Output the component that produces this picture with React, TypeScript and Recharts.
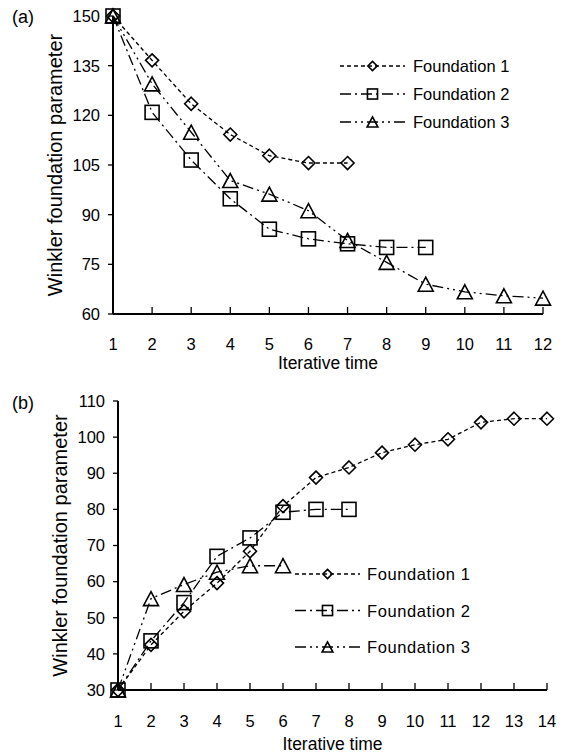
import { LineChart, Line, XAxis, YAxis } from 'recharts'

// panel (a)
const timesA = [1, 2, 3, 4, 5, 6, 7, 8, 9, 10, 11, 12]
const found1A = [150, 136.6, 123.5, 114.2, 107.8, 105.6, 105.6]
const found2A = [150, 120.9, 106.5, 94.8, 85.6, 82.7, 81.2, 80.1, 80.1]
const found3A = [150, 129.5, 114.9, 100.3, 96.2, 91.2, 82.2, 75.6, 69.0, 66.7, 65.5, 64.8]
const yTicksA = [60, 75, 90, 105, 120, 135, 150]

// panel (b)
const timesB = [1, 2, 3, 4, 5, 6, 7, 8, 9, 10, 11, 12, 13, 14]
const found1B = [30, 42.5, 51.8, 59.6, 68.4, 80.9, 88.8, 91.6, 95.7, 97.9, 99.4, 104.1, 105.1, 105.1]
const found2B = [30, 43.6, 54.2, 67.0, 72.1, 79.2, 80, 80]
const found3B = [30, 55.3, 59.2, 62.6, 64.4, 64.4]
const yTicksB = [30, 40, 50, 60, 70, 80, 90, 100, 110]

const seriesNames = ['Foundation 1', 'Foundation 2', 'Foundation 3']

const FONT = '"Liberation Sans", Arial, sans-serif'

function buildRows(times: number[], s1: number[], s2: number[], s3: number[]) {
  return times.map((t, i) => ({ t, f1: s1[i], f2: s2[i], f3: s3[i] }))
}

type MarkerProps = { cx?: number; cy?: number; s?: number }

function Diamond({ cx, cy, s = 1 }: MarkerProps) {
  if (cx == null || cy == null || isNaN(cy)) return null
  const r = 6.5 * s
  return (
    <path d={`M${cx},${cy - r}L${cx + r},${cy}L${cx},${cy + r}L${cx - r},${cy}Z`}
      fill="none" stroke="#000" strokeWidth={1.6} />
  )
}

function Square({ cx, cy, s = 1 }: MarkerProps) {
  if (cx == null || cy == null || isNaN(cy)) return null
  const h = 7 * s
  return <rect x={cx - h} y={cy - h} width={h * 2} height={h * 2} fill="none" stroke="#000" strokeWidth={1.6} />
}

function Triangle({ cx, cy, s = 1 }: MarkerProps) {
  if (cx == null || cy == null || isNaN(cy)) return null
  const w = 7.5 * s
  const h = 7 * s
  return (
    <path d={`M${cx},${cy - h}L${cx + w},${cy + h}L${cx - w},${cy + h}Z`}
      fill="none" stroke="#000" strokeWidth={1.6} />
  )
}

const styles = [
  { key: 'f1', dash: '4 3', Marker: Diamond },
  { key: 'f2', dash: '11 4 2 4', Marker: Square },
  { key: 'f3', dash: '11 4 2 4 2 4', Marker: Triangle },
]

function makeXTick(baseline: number) {
  return function XTick(props: any) {
    const { x, y, payload } = props
    return (
      <g>
        <line x1={x} x2={x} y1={y} y2={y - 7} stroke="#000" strokeWidth={1.3} />
        <text x={x} y={y + baseline} textAnchor="middle" fontSize={16.5} fill="#000" fontFamily={FONT}>
          {payload.value}
        </text>
      </g>
    )
  }
}

interface PanelProps {
  rows: { t: number; f1?: number; f2?: number; f3?: number }[]
  times: number[]
  yTicks: number[]
  top: number
  height: number
  margin: { top: number; right: number; left: number; bottom: number }
  xHeight: number
  tickBaseline: number
  labelOffset: number
}

function Panel({ rows, times, yTicks, top, height, margin, xHeight, tickBaseline, labelOffset }: PanelProps) {
  const xDomain = [times[0], times[times.length - 1]]
  const yDomain = [yTicks[0], yTicks[yTicks.length - 1]]
  return (
    <div style={{ position: 'absolute', left: 0, top }}>
      <LineChart width={564} height={height} data={rows} margin={margin} style={{ fontFamily: FONT }}>
        <XAxis dataKey="t" type="number" domain={xDomain} ticks={times}
          height={xHeight} tickSize={0} tickMargin={0} tickLine={false}
          axisLine={{ stroke: '#000', strokeWidth: 2 }} tick={makeXTick(tickBaseline)}
          label={{ value: 'Iterative time', position: 'insideBottom', offset: labelOffset, fontSize: 17.5, fill: '#000' }} />
        <XAxis xAxisId="top" dataKey="t" type="number" domain={xDomain} orientation="top" height={0}
          tick={false} tickLine={false} axisLine={{ stroke: '#000', strokeWidth: 1.5 }} />
        <YAxis type="number" domain={yDomain} ticks={yTicks} width={70} tickSize={5} tickMargin={8}
          tick={{ fontSize: 16.5, fill: '#000' }} tickLine={{ stroke: '#000', strokeWidth: 1.3 }}
          axisLine={{ stroke: '#000', strokeWidth: 2 }}
          label={{ value: 'Winkler foundation parameter', angle: -90, position: 'insideLeft', offset: 12,
            fontSize: 20, fill: '#000', style: { textAnchor: 'middle' } }} />
        <YAxis yAxisId="right" orientation="right" type="number" domain={yDomain} width={0}
          tick={false} tickLine={false} axisLine={{ stroke: '#000', strokeWidth: 1.5 }} />
        {styles.map(({ key, dash, Marker }) => (
          <Line key={key} dataKey={key} type="linear" stroke="#000" strokeWidth={1.3}
            strokeDasharray={dash} isAnimationActive={false} legendType="none"
            dot={(p: any) => <Marker key={`${key}-${p.index}`} cx={p.cx} cy={p.cy} />}
            activeDot={false} />
        ))}
      </LineChart>
    </div>
  )
}

function LegendBox({ left, top, rowGap, lineLen, textGap, spacing }: {
  left: number; top: number; rowGap: number; lineLen: number; textGap: number; spacing: number
}) {
  return (
    <svg style={{ position: 'absolute', left, top }} width={224} height={rowGap * 3 + 10}>
      {styles.map(({ key, dash, Marker }, i) => {
        const y = 10 + i * rowGap
        return (
          <g key={key}>
            <line x1={0} x2={lineLen} y1={y} y2={y} stroke="#000" strokeWidth={1.3} strokeDasharray={dash} />
            <Marker cx={lineLen / 2} cy={y} s={0.72} />
            <text x={lineLen + textGap} y={y} dominantBaseline="central" fontSize={16.5} fill="#000"
              fontFamily={FONT} letterSpacing={spacing}>
              {seriesNames[i]}
            </text>
          </g>
        )
      })}
    </svg>
  )
}

export default function App() {
  const rowsA = buildRows(timesA, found1A, found2A, found3A)
  const rowsB = buildRows(timesB, found1B, found2B, found3B)
  return (
    <div style={{ position: 'absolute', left: 0, top: 0, width: 564, height: 756, background: '#fff', fontFamily: FONT }}>
      <Panel rows={rowsA} times={timesA} yTicks={yTicksA} top={0} height={380}
        margin={{ top: 16, right: 21, left: 43, bottom: 8 }} xHeight={58} tickBaseline={36} labelOffset={3} />
      <Panel rows={rowsB} times={timesB} yTicks={yTicksB} top={380} height={376}
        margin={{ top: 21, right: 17, left: 48, bottom: 6 }} xHeight={60} tickBaseline={37} labelOffset={0} />
      <LegendBox left={340} top={56} rowGap={28} lineLen={65} textGap={8} spacing={0} />
      <LegendBox left={295} top={564} rowGap={36.5} lineLen={65} textGap={7} spacing={0.6} />
      <div style={{ position: 'absolute', left: 12, top: 6, fontSize: 18, lineHeight: '22px' }}>(a)</div>
      <div style={{ position: 'absolute', left: 12, top: 392, fontSize: 18, lineHeight: '22px' }}>(b)</div>
    </div>
  )
}
